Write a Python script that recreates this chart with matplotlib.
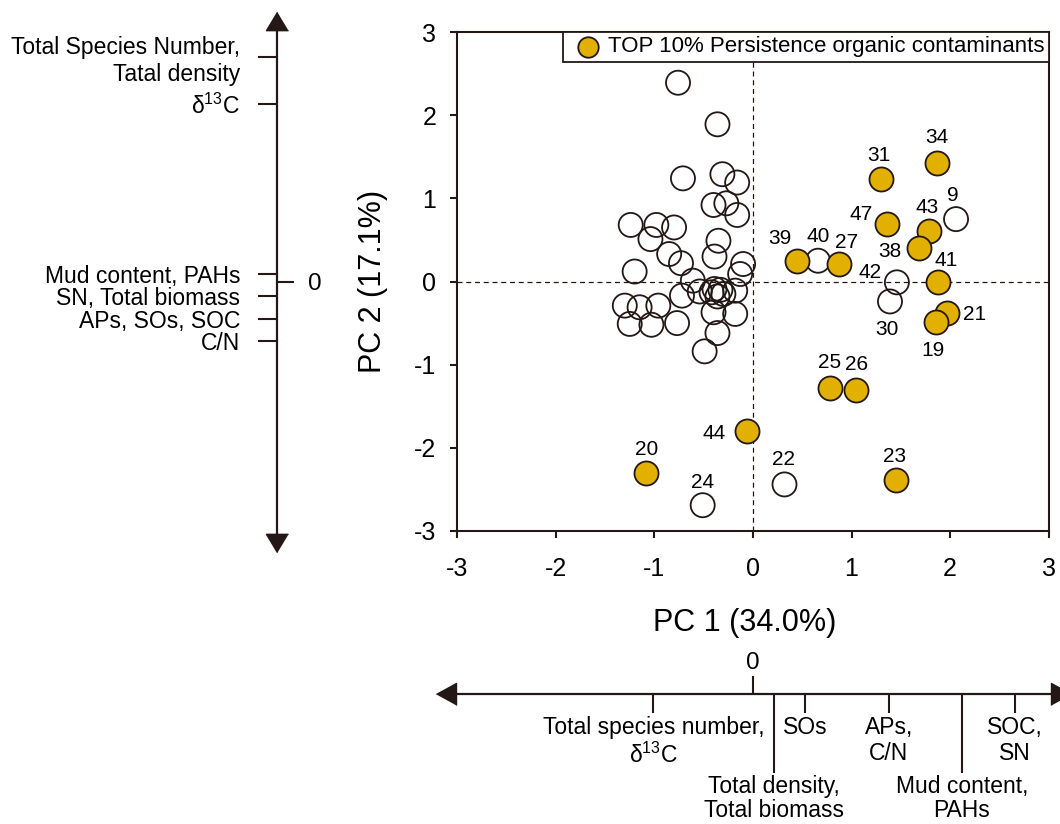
import matplotlib
matplotlib.use('Agg')
import matplotlib.pyplot as plt

plt.rcParams['font.family'] = ['Liberation Sans', 'DejaVu Sans']
plt.rcParams['mathtext.fontset'] = 'custom'
plt.rcParams['mathtext.rm'] = 'Liberation Sans'
plt.rcParams['mathtext.it'] = 'Liberation Sans:italic'
plt.rcParams['axes.unicode_minus'] = False

# ---------------- data ----------------
open_pc1 = [-0.76, -0.36, -0.71, -0.31, -0.16, -0.40, -0.27, -0.16, -1.24, -0.98,
            -0.80, -1.04, -0.35, -0.85, -0.39, -0.73, -0.10, -0.13, -1.20, -0.61,
            -0.54, -0.72, -0.39, -0.33, -0.30, -0.36, -0.42, -0.18, -1.30, -1.15,
            -0.96, -1.25, -1.03, -0.77, -0.40, -0.18, -0.36, -0.49]
open_pc2 = [2.39, 1.89, 1.24, 1.29, 1.19, 0.92, 0.94, 0.80, 0.68, 0.68,
            0.65, 0.51, 0.49, 0.33, 0.30, 0.22, 0.21, 0.09, 0.12, 0.01,
            -0.12, -0.17, -0.09, -0.10, -0.15, -0.18, -0.13, -0.11, -0.29, -0.31,
            -0.29, -0.51, -0.52, -0.50, -0.37, -0.39, -0.62, -0.84]

lab_open_ids = ['9', '22', '24', '30', '40', '42']
lab_open_pc1 = [2.06, 0.32, -0.51, 1.39, 0.66, 1.46]
lab_open_pc2 = [0.75, -2.44, -2.69, -0.24, 0.25, -0.01]

top_ids = ['34', '31', '47', '43', '38', '39', '27', '41', '21', '19', '25', '26', '44', '20', '23']
top_pc1 = [1.87, 1.30, 1.36, 1.79, 1.68, 0.45, 0.87, 1.88, 1.97, 1.86, 0.78, 1.05, -0.06, -1.08, 1.45]
top_pc2 = [1.43, 1.23, 0.69, 0.61, 0.40, 0.25, 0.21, -0.01, -0.38, -0.49, -1.28, -1.31, -1.80, -2.30, -2.39]

pc2_load_labels = ['Total Species Number,\nTatal density', 'δ$^{13}$C', 'Mud content, PAHs',
                   'SN, Total biomass', 'APs, SOs, SOC', 'C/N']
pc2_load_vals = [2.70, 2.14, 0.09, -0.17, -0.45, -0.72]

pc1_short_labels = ['Total species number,\nδ$^{13}$C', 'SOs', 'APs,\nC/N', 'SOC,\nSN']
pc1_short_vals = [-1.01, 0.53, 1.38, 2.66]
pc1_long_labels = ['Total density,\nTotal biomass', 'Mud content,\nPAHs']
pc1_long_vals = [0.21, 2.12]

ticks_main = [-3, -2, -1, 0, 1, 2, 3]
legend_label = 'TOP 10% Persistence organic contaminants'

# label offsets (pixels: right, up)
label_offsets = {'34': (0, 25), '31': (-2, 24), '9': (-3, 24), '47': (-26, 10), '43': (-2, 23),
                 '38': (-29, -3), '39': (-17, 22), '40': (0, 24), '27': (8, 22), '41': (8, 22),
                 '42': (-27, 10), '30': (-3, -28), '21': (27, -1), '19': (-3, -28), '25': (0, 25),
                 '26': (0, 26), '44': (-33, -2), '20': (0, 23), '24': (0, 23), '22': (-1, 25),
                 '23': (-1, 24)}

EDGE = '#231815'
GOLD = '#E1B000'
W, H = 1060, 824

fig = plt.figure(figsize=(W / 100, H / 100), dpi=100)

ax_l, ax_r, ax_t, ax_b = 457.2, 1048.7, 32.0, 531.0
rect = [ax_l / W, 1 - ax_b / H, (ax_r - ax_l) / W, (ax_b - ax_t) / H]
ax = fig.add_axes(rect)
ax.set_xlim(-3, 3)
ax.set_ylim(-3, 3)
for sp in ax.spines.values():
    sp.set_linewidth(1.5)
    sp.set_color(EDGE)
ax.set_xticks(ticks_main, [str(t) for t in ticks_main])
ax.set_yticks(ticks_main, [str(t) for t in ticks_main])
ax.tick_params(axis='both', direction='out', length=5, width=1.5, color=EDGE, labelsize=18)
ax.tick_params(axis='x', pad=13.5)
ax.tick_params(axis='y', pad=10)

dash = (0, (4, 3))
ax.axhline(0, color=EDGE, lw=0.9, ls=dash, zorder=1)
ax.axvline(0, color=EDGE, lw=0.9, ls=dash, zorder=1)

S = 300
ax.scatter(open_pc1 + lab_open_pc1, open_pc2 + lab_open_pc2, s=S, facecolors='none',
           edgecolors=EDGE, linewidths=1.3, zorder=3)
ax.scatter(top_pc1, top_pc2, s=S, facecolors=GOLD, edgecolors=EDGE, linewidths=1.3,
           zorder=4, label=legend_label)

for ids, xs, ys in [(lab_open_ids, lab_open_pc1, lab_open_pc2), (top_ids, top_pc1, top_pc2)]:
    for i, x, y in zip(ids, xs, ys):
        dx, dy = label_offsets[i]
        ax.annotate(i, (x, y), xytext=(dx * 0.72, dy * 0.72), textcoords='offset points',
                    ha='center', va='center', fontsize=15, color='black', zorder=5)

leg = ax.legend(loc='upper right', borderaxespad=0, fontsize=16, frameon=True, fancybox=False,
                edgecolor=EDGE, framealpha=1, borderpad=0.2, handlelength=1.8,
                handletextpad=0.0, markerscale=0.85, scatterpoints=1)
leg.get_frame().set_linewidth(1.3)
leg.set_zorder(6)

ax.set_xlabel('PC 1 (34.0%)', fontsize=22, va='center')
ax.xaxis.set_label_coords((745 - ax_l) / (ax_r - ax_l), -(623 - ax_b) / (ax_b - ax_t))
ax.set_ylabel('PC 2 (17.1%)', fontsize=22, va='center')
ax.yaxis.set_label_coords((373 - ax_l) / (ax_r - ax_l), 0.5)

# ---------------- left loading axis (PC2) ----------------
line_x = 277.3
rectL = [line_x / W, rect[1], 1e-4, rect[3]]
arrow_v = [(0, 1), (-1.2, -1), (1.2, -1)]
arrow_dn = [(0, -1), (-1.2, 1), (1.2, 1)]
arrow_l = [(-1, 0), (1, 1.1), (1, -1.1)]
arrow_r = [(1, 0), (-1, 1.1), (-1, -1.1)]
ms = 22 * 0.72
LOAD_FS = 16.5

axL = fig.add_axes(rectL)
axL.set_xlim(0, 1)
axL.set_ylim(-3, 3)
axL.patch.set_visible(False)
for sp in axL.spines.values():
    sp.set_visible(False)
axL.set_xticks([])
axL.set_yticks(pc2_load_vals, pc2_load_labels)
axL.tick_params(axis='y', direction='out', length=13.7, width=1.5, color=EDGE, pad=13,
                labelsize=LOAD_FS)
axL.plot([0, 0], [-3.14, 3.137], color=EDGE, lw=1.6, clip_on=False, solid_capstyle='butt')
axL.plot([0], [3.137], marker=arrow_v, ms=ms, color=EDGE, clip_on=False, lw=0)
axL.plot([0], [-3.141], marker=arrow_dn, ms=ms, color=EDGE, clip_on=False, lw=0)

axL0 = fig.add_axes(rectL)
axL0.set_xlim(0, 1)
axL0.set_ylim(-3, 3)
axL0.patch.set_visible(False)
for sp in axL0.spines.values():
    sp.set_visible(False)
axL0.set_xticks([])
axL0.yaxis.tick_right()
axL0.set_yticks([0], ['0'])
axL0.tick_params(axis='y', direction='out', length=12.2, width=1.5, color=EDGE, pad=10,
                 labelsize=17.5)

# ---------------- bottom loading axis (PC1) ----------------
line_y = 694.0
rectB = [rect[0], 1 - line_y / H, rect[2], 1e-4]
axB = fig.add_axes(rectB)
axB.set_xlim(-3, 3)
axB.set_ylim(0, 1)
axB.patch.set_visible(False)
for sp in axB.spines.values():
    sp.set_visible(False)
axB.set_yticks([])
axB.set_xticks(pc1_short_vals, pc1_short_labels)
axB.set_xticks(pc1_long_vals, pc1_long_labels, minor=True)
axB.tick_params(axis='x', which='major', direction='out', length=13.7, width=1.5, color=EDGE,
                pad=2, labelsize=LOAD_FS)
axB.tick_params(axis='x', which='minor', direction='out', length=57, width=1.5, color=EDGE,
                pad=1.5, labelsize=LOAD_FS)
for lbl in axB.get_xticklabels(minor=True):
    lbl.set_linespacing(1.05)
axB.plot([-3.11, 3.128], [0, 0], color=EDGE, lw=1.6, clip_on=False, solid_capstyle='butt')
axB.plot([-3.11], [0], marker=arrow_l, ms=ms, color=EDGE, clip_on=False, lw=0)
axB.plot([3.128], [0], marker=arrow_r, ms=ms, color=EDGE, clip_on=False, lw=0)

axB0 = fig.add_axes(rectB)
axB0.set_xlim(-3, 3)
axB0.set_ylim(0, 1)
axB0.patch.set_visible(False)
for sp in axB0.spines.values():
    sp.set_visible(False)
axB0.set_yticks([])
axB0.xaxis.tick_top()
axB0.set_xticks([0], ['0'])
axB0.tick_params(axis='x', direction='out', length=13, width=1.5, color=EDGE, pad=1.5,
                 labelsize=17.5)

fig.savefig('out.png', dpi=100)
